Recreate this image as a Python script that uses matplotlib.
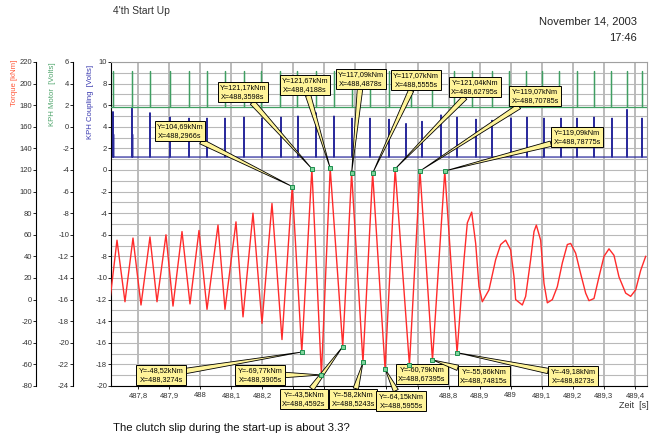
"""
Start-up torque recording (4'th start up): torque, motor and coupling pulse signals.
"""

import numpy as np
import matplotlib
matplotlib.use("Agg")
import matplotlib.pyplot as plt

plt.rcParams["font.family"] = ["Liberation Sans", "DejaVu Sans"]
plt.rcParams["axes.unicode_minus"] = False

# --- Torque trace [kNm] -------------------------------------------------------
early_t = [487.7099, 487.7324, 487.7581, 487.7839, 487.8097, 487.8386, 487.8612,
           487.8901, 487.9127, 487.9417, 487.9674, 487.9964, 488.0222, 488.0576,
           488.0801, 488.1155, 488.1381, 488.1702, 488.1992, 488.2314, 488.2636]
early_v = [0, 55, -2, 57, -5, 58, -2, 60, -6, 63, -4, 64, -9, 69, -9, 72, -16,
           80, -22, 89, -37]

# marked extrema during the slip
peak_t = [488.2966, 488.3598, 488.4188, 488.4878, 488.5555, 488.62795, 488.70785, 488.78775]
peak_v = [104.69, 121.17, 121.67, 117.09, 117.07, 121.04, 119.07, 119.09]
trough_t = [488.3274, 488.3905, 488.4592, 488.5243, 488.5955, 488.67395, 488.74815, 488.8273]
trough_v = [-48.52, -69.77, -43.5, -58.2, -64.15, -60.79, -55.86, -49.18]

late_t = [488.8496, 488.8603, 488.8743, 488.8872, 488.8979, 488.9086, 488.9301,
          488.9515, 488.9676, 488.9837, 488.9998, 489.0106, 489.0159, 489.0374,
          489.0481, 489.0642, 489.0750, 489.0825, 489.0964, 489.1072, 489.1179,
          489.1340, 489.1501, 489.1662, 489.1823, 489.1930, 489.2091, 489.2252,
          489.2413, 489.2520, 489.2681, 489.2842, 489.3003, 489.3164, 489.3325,
          489.3486, 489.3701, 489.3862, 489.4023, 489.4184, 489.4345]
late_v = [37, 71, 81, 52, 12, -2, 9, 37, 51, 55, 46, 21, 0, -5, 3, 37, 63, 69,
          55, 15, -3, 0, 12, 34, 51, 52, 43, 24, 6, -1, 1, 21, 40, 47, 41, 21,
          6, 3, 9, 27, 40]

# --- KPH Motor pulses [Volts] --------------------------------------------------
motor_t = [487.7195, 487.7807, 487.8386, 487.9030, 487.9642, 488.0222, 488.0801,
           488.1413, 488.1960, 488.2572, 488.3119, 488.3731, 488.4310, 488.4890,
           488.5469, 488.6081, 488.6790, 488.7466, 488.8174, 488.8753, 488.9397,
           488.9945, 489.0492, 489.1007, 489.1555, 489.2134, 489.2682, 489.3229,
           489.3744, 489.4227]
motor_low = 1.85
motor_high = 5.2

# --- KPH Coupling spikes [Volts] -----------------------------------------------
coup_t = [487.7195, 487.7807, 487.8386, 487.9030, 487.9642, 488.0222, 488.0801,
          488.1413, 488.1992, 488.2604, 488.3151, 488.3731, 488.4310, 488.4890,
          488.5469, 488.6081, 488.6629, 488.7144, 488.7755, 488.8271, 488.8882,
          488.9397, 489.0009, 489.0524, 489.1071, 489.1619, 489.2134, 489.2682,
          489.3262, 489.3744, 489.4227]
coup_v = [5.4, 5.8, 5.3, 4.9, 4.8, 4.8, 4.8, 4.9, 4.8, 4.9, 5.0, 5.3, 5.0, 4.8,
          4.8, 4.7, 4.3, 4.5, 5.1, 4.9, 4.7, 4.6, 4.8, 4.9, 4.8, 4.8, 4.8, 4.9,
          4.8, 5.6, 4.8]
coup_sub_t = [487.7215, 487.7827]
coup_sub_v = [3.3, 3.3]
coup_base = 1.2

x_ticks = [487.8, 487.9, 488.0, 488.1, 488.2, 488.3, 488.4, 488.5, 488.6,
           488.7, 488.8, 488.9, 489.0, 489.1, 489.2, 489.3, 489.4]
# labels 488,3 .. 488,6 sit fully under the callout boxes in the original
x_hidden = [488.3, 488.4, 488.5, 488.6]

RED = "#ff2b2b"
GREEN = "#3f9f62"
BLUE = "#2b2b9c"
YELLOW = "#fff49a"
W, H = 655, 441


def style_left(a, spine_x, lo, hi, step):
    a.set_ylim(lo, hi)
    a.set_yticks(np.arange(lo, hi + 1, step))
    a.yaxis.set_ticks_position("left")
    a.yaxis.set_label_position("left")
    for s in ("top", "right", "bottom"):
        a.spines[s].set_visible(False)
    a.spines["left"].set_visible(True)
    a.spines["left"].set_position(("axes", spine_x))
    a.spines["left"].set_linewidth(0.8)
    a.tick_params(axis="y", labelsize=5.5, length=2, width=0.6, pad=0.8,
                  labelcolor="#333333")


def xlab(v):
    if any(abs(v - h) < 1e-6 for h in x_hidden):
        return ""
    return f"{v:.1f}".rstrip("0").rstrip(".").replace(".", ",")


fig = plt.figure(figsize=(W / 100, H / 100), dpi=100)
ax = fig.add_axes([111 / W, 55 / H, 536 / W, 324 / H])
ax.set_xlim(487.7131, 489.4388)

# coupling axis (innermost, carries the grid)
style_left(ax, 0.0, -20, 10, 2)
ax.set_yticks(np.arange(-20, 11, 1), minor=True)
ax.tick_params(axis="y", which="minor", length=0)
ax.spines["bottom"].set_visible(True)
ax.spines["bottom"].set_linewidth(0.8)
ax.spines["top"].set_visible(True)
ax.spines["right"].set_visible(True)
ax.spines["top"].set_color("#a0a0a0")
ax.spines["right"].set_color("#a0a0a0")
ax.set_xticks(x_ticks)
ax.set_xticklabels([xlab(v) for v in x_ticks])
ax.tick_params(axis="x", labelsize=5.5, length=2, width=0.6, pad=2.5, labelcolor="#333333")
ax.grid(True, which="both", axis="y", color="#b9b9b9", lw=0.8)
ax.grid(True, which="major", axis="x", color="#a8a8a8", lw=1.1)
ax.set_axisbelow(True)

bt, bv = [487.70], [coup_base]
spikes = sorted(zip(coup_t + coup_sub_t, coup_v + coup_sub_v))
for t, v in spikes:
    bt += [t - 0.0005, t, t + 0.0005]
    bv += [coup_base, v, coup_base]
bt.append(489.45)
bv.append(coup_base)
ax.plot(bt, bv, color=BLUE, lw=0.9)

# motor axis
ax_m = ax.twinx()
style_left(ax_m, (73 - 111) / 536, -24, 6, 2)
gt, gv = [487.70], [motor_low]
for t in motor_t:
    gt += [t - 0.0006, t - 0.0006, t + 0.0006, t + 0.0006]
    gv += [motor_low, motor_high, motor_high, motor_low]
gt.append(489.45)
gv.append(motor_low)
ax_m.plot(gt, gv, color=GREEN, lw=0.9)

# torque axis
ax_t = ax.twinx()
style_left(ax_t, (36 - 111) / 536, -80, 220, 20)
tq_t = np.concatenate([early_t, np.ravel(np.column_stack([peak_t, trough_t])), late_t])
tq_v = np.concatenate([early_v, np.ravel(np.column_stack([peak_v, trough_v])), late_v])
ax_t.plot(tq_t, tq_v, color=RED, lw=1.0, zorder=2, solid_joinstyle="round")

box_peak = [(180, 131), (243, 92), (305, 85), (361, 79), (416, 80), (475, 87), (535, 96), (577, 137)]
box_trough = [(161, 375), (260, 375), (304, 399), (353, 399), (401, 401), (422, 374), (484, 376), (573, 376)]

for ts, vs, boxes in ((peak_t, peak_v, box_peak), (trough_t, trough_v, box_trough)):
    for t, v, (bx, by) in zip(ts, vs, boxes):
        label = "Y=" + str(v).replace(".", ",") + "kNm\nX=" + str(t).replace(".", ",") + "s"
        ax_t.annotate(label, xy=(t, v), xytext=(bx, H - by), textcoords="figure pixels",
                      ha="center", va="center", fontsize=5.2, linespacing=1.35,
                      annotation_clip=False, zorder=5,
                      bbox=dict(boxstyle="square,pad=0.3", fc=YELLOW, ec="black", lw=0.7),
                      arrowprops=dict(arrowstyle="wedge,tail_width=0.75,shrink_factor=0.5",
                                      fc=YELLOW, ec="black", lw=0.6, shrinkA=0, shrinkB=0))
    ax_t.plot(ts, vs, "s", ms=3.2, mfc="#7fd59c", mec="#1f8f4f", mew=0.7, zorder=6)

# texts
fig.text(113 / W, 1 - 11 / H, "4'th Start Up", fontsize=7.4, color="#333333", va="center")
fig.text(637 / W, 1 - 22 / H, "November 14, 2003", fontsize=8, color="#222222",
         ha="right", va="center")
fig.text(637 / W, 1 - 38 / H, "17:46", fontsize=8, color="#222222", ha="right", va="center")
fig.text(649 / W, 1 - 406 / H, "Zeit  [s]", fontsize=6.5, color="#333333",
         ha="right", va="center")
fig.text(113 / W, 1 - 428 / H, "The clutch slip during the start-up is about 3.3?",
         fontsize=8.2, color="#111111", va="center")
fig.text(15 / W, 1 - 60 / H, "Torque [kNm]", rotation=90, fontsize=5.6,
         color="#ff5a3c", ha="center", va="top")
fig.text(53 / W, 1 - 62 / H, "KPH Motor  [Volts]", rotation=90, fontsize=5.6,
         color="#4fa56c", ha="center", va="top")
fig.text(90 / W, 1 - 65 / H, "KPH Coupling  [Volts]", rotation=90, fontsize=5.6,
         color="#3a3ab0", ha="center", va="top")

fig.savefig("out.png", dpi=100)
